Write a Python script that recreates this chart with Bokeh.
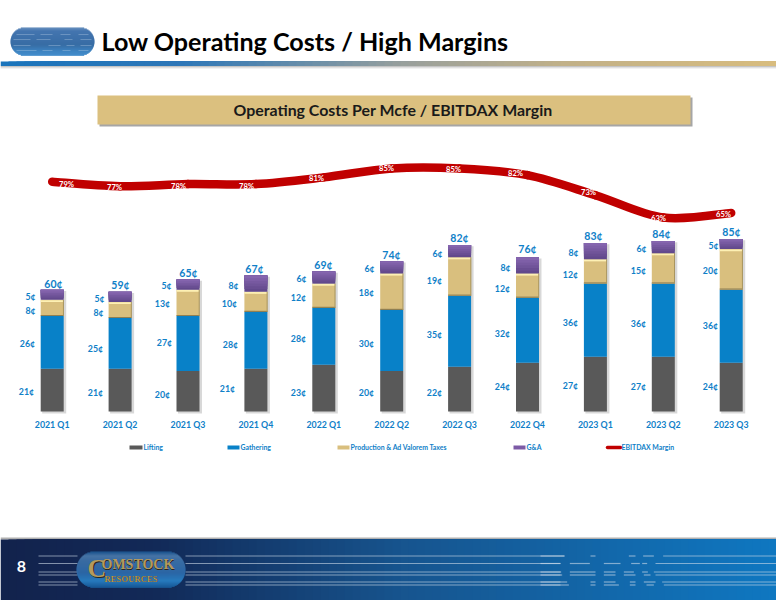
import numpy as np
from bokeh.plotting import figure
from bokeh.core.properties import value
from bokeh.models import Range1d, LinearAxis, FixedTicker, ColumnDataSource
from bokeh.embed import file_html
from bokeh.resources import INLINE

# ---- data ----
quarters = ["2021 Q1","2021 Q2","2021 Q3","2021 Q4","2022 Q1","2022 Q2","2022 Q3","2022 Q4","2023 Q1","2023 Q2","2023 Q3"]
lifting    = [21,21,20,21,23,20,22,24,27,27,24]
gathering  = [26,25,27,28,28,30,35,32,36,36,36]
production = [8,8,13,10,12,18,19,12,12,15,20]
g_and_a    = [5,5,5,8,6,6,6,8,8,6,5]
totals     = [60,59,65,67,69,74,82,76,83,84,85]
margin     = [79,77,78,78,81,85,85,82,73,63,65]

# hand-placed label anchors of the original slide (page pixels)
lift_lx = [26,95,162,227,298,366,434,502,570,638,710]
lift_ly = [391,392,394,388,392,392,392,386,385,386,386]
gath_lx = [27,95,164,230,298,366,434,502,570,638,710]
gath_ly = [343,348,342,344,338,343,334,333,322,323,325]
prod_lx = [30,98,162,229,298,366,434,502,570,638,710]
prod_ly = [310,312,303,303,297,292,280,288,274,270,270]
ga_lx   = [30,99,166,233,301,369,437,505,573,641,713]
ga_ly   = [296,298,285,285,278,268,253,267,252,248,245]
tot_lx  = [53,120,188,254,323,391,459,527,593,661,731]
tot_ly  = [283,284,272,268,264,254,237,248,235,233,231]
mar_lx  = [66,114,178,246,316,386,453,515,588,658,723]
mar_ly  = [183,186,185,185,177,167,168,172,191,217,213]

FONT = "Lato"
BLUE_TXT = "#0f80c8"
C_LIFT, C_GATH, C_PROD, C_RED = "#595959", "#0881c8", "#d9bf7e", "#c00000"

# layout: one frame covering the page, in page pixel terms
X0, DX, BASE, SCALE = 51.7, 67.9, 411.0, 2.03
M_REF, M_PX, M_SCALE = 63.0, 217.0, 2.23
L, R, T, B = 0, 776, 0, 600

p = figure(width=R-L, height=B-T, output_backend="svg", toolbar_location=None,
           x_axis_location=None, y_axis_location=None, min_border=0,
           x_range=Range1d((L-X0)/DX, (R-X0)/DX),
           y_range=Range1d((BASE-B)/SCALE, (BASE-T)/SCALE))
p.outline_line_color = None
p.grid.visible = False
p.background_fill_color = "white"
p.border_fill_color = "white"
p.extra_x_ranges["px"] = Range1d(L, R)
p.extra_y_ranges["px"] = Range1d(B, T)
p.extra_y_ranges["margin"] = Range1d(M_REF+(M_PX-B)/M_SCALE, M_REF+(M_PX-T)/M_SCALE)
PX = dict(x_range_name="px", y_range_name="px")

def grad(xs, stops):
    px, cs = zip(*stops)
    arr = np.array([[int(c[i:i+2], 16) for i in (1, 3, 5)] for c in cs], float)
    out = np.stack([np.interp(xs, px, arr[:, k]) for k in range(3)], 1).astype(int)
    return ["#%02x%02x%02x" % tuple(v) for v in out]

def box(x0, x1, y0, y1, color, alpha=1.0):
    p.quad(left=x0, right=x1, top=y0, bottom=y1, fill_color=color, line_color=None, fill_alpha=alpha, **PX)

def pill(x0, x1, y0, y1, stops):
    ys = np.arange(y0, y1, 1.0)
    r = (y1-y0)/2
    c = (y0+y1)/2
    inset = r - np.sqrt(np.maximum(r*r-(ys+0.5-c)**2, 0))
    cols = grad(ys, stops)
    p.quad(left=x0+inset, right=x1-inset, top=ys, bottom=ys+1.3, fill_color=cols, line_color=None, **PX)

def lines(rows, color, alpha, w=1.2):
    x0, x1, y = [], [], []
    for yy, segs in rows:
        for a, b in segs:
            x0.append(a); x1.append(b); y.append(yy)
    p.segment(x0=x0, x1=x1, y0=y, y1=y, line_color=color, line_alpha=alpha, line_width=w, **PX)

def label(x, y, text, size, color="black", style="bold", align="left", font=FONT):
    p.text(x=[x], y=[y], text=[text], text_font=value(font), text_font_size=f"{size}px", text_font_style=style,
           text_color=color, text_align=align, text_baseline="middle", **PX)

# ---- header ----
pill(10, 94, 27, 55, [(27,"#4f7fb4"),(30,"#2a62a4"),(44,"#1b5898"),(50,"#2272b8"),(55,"#2a7fc6")])
lines([(34,[(16,34),(40,52),(60,70),(78,88)]),(39,[(13,30),(36,50),(64,72),(80,91)]),
       (45,[(13,30),(48,60),(66,74),(80,91)]),(50,[(16,36),(42,52),(62,70),(78,88)])], "#cfe0f2", 0.3, 1.0)
label(101, 40, "Low Operating Costs / High Margins", 25.1)
xs = np.arange(0, 776, 8.0)
rule_c = grad(xs, [(0,"#1b75bc"),(180,"#2f78b8"),(400,"#99a09c"),(560,"#c2b188"),(776,"#d9bd7e")])
p.quad(left=xs, right=776, top=61, bottom=65.5, fill_color=rule_c, line_color=None, **PX)
box(0, 776, 65.5, 67, "#b5b5b5", 0.8)
box(0, 776, 67, 68, "#dddddd", 0.8)

box(99, 692, 97, 126, "#a6a6a6")
box(97, 690, 95, 124, "#dbc07f")
label(392.5, 109, "Operating Costs Per Mcfe / EBITDAX Margin", 15.9, color="#1a1a1a", align="center")

# ---- footer ----
box(0, 776, 537, 539, "#b0b0b0")
foot_c = grad(xs, [(0,"#12234d"),(150,"#122a58"),(400,"#17558f"),(776,"#0f78c2")])
p.quad(left=xs, right=776, top=539, bottom=600, fill_color=foot_c, line_color=None, **PX)
G = lambda *pairs: [(540+a/3, 540+b/3) for a, b in pairs]
lines([(555.5, [(38,77)]+[(185,564)]+G((0,72),(150,165),(265,285),(308,340),(368,708))),
       (563,   [(38,77)]+[(185,560)]+G((0,60),(88,148),(190,240),(272,298),(305,320),(345,708))),
       (571.5, [(38,77)]+[(185,560)]+G((0,62),(88,165),(190,225),(250,280),(305,322),(340,708))),
       (574.5, [(38,77)]+[(185,560)]+G((0,65),(88,165),(190,225),(250,285),(310,330),(345,708))),
       (581.5, [(38,77)]+[(185,560)]+G((0,80),(150,165),(190,225),(268,285),(310,345),(365,708))),
       (584.5, [(38,77)]+[(185,560)]+G((0,85),(150,165),(190,235),(268,285),(318,340),(370,708)))],
      "#cfdcea", 0.6, 1.2)
label(21, 566, "8", 16, color="white", align="center")
pill(76, 185, 551, 587, [(551,"#1c5a96"),(555,"#4f7fb0"),(560,"#3f75ad"),(572,"#2f6fb0"),(580,"#2a86cc"),(587,"#155a9a")])
label(88, 569, "C", 26, color="#2a2418", font="Liberation Serif")
label(87, 568, "C", 26, color="#b59a5c", font="Liberation Serif")
label(101.5, 565, "OMSTOCK", 14, color="#2a2418", font="Liberation Serif")
label(101, 564, "OMSTOCK", 14, color="#b59a5c", font="Liberation Serif")
label(104.5, 578.5, "RESOURCES", 8.7, color="#2a2418", font="Liberation Serif")
label(104, 578, "RESOURCES", 8.7, color="#b59a5c", font="Liberation Serif")

# ---- stacked bars ----
idx = np.arange(len(quarters), dtype=float)
lift = np.array(lifting, float); gath = np.array(gathering, float)
prod = np.array(production, float); ga = np.array(g_and_a, float)
c1 = lift; c2 = c1+gath; c3 = c2+prod; c4 = c3+ga
W = 23/DX

p.vbar(x=idx+2/DX, width=W+1/DX, top=c4-0.6, bottom=-1, fill_color="#a8a8a8", fill_alpha=0.45, line_color=None)
p.vbar(x=idx, width=W, bottom=0, top=c1, fill_color=C_LIFT, line_color=None)
p.vbar(x=idx, width=W, bottom=c1, top=c2, fill_color=C_GATH, line_color=None)
p.vbar(x=idx, width=W, bottom=c2, top=c3, fill_color=C_PROD, line_color=None)
p.segment(x0=idx-W/2, x1=idx+W/2, y0=c3-0.6, y1=c3-0.6, line_color="#fdf0b4", line_width=1.8)
p.segment(x0=idx-W/2, x1=idx+W/2, y0=c2+0.3, y1=c2+0.3, line_color="#8f7f52", line_width=1.2)
p.segment(x0=idx+W/2-0.004, x1=idx+W/2-0.004, y0=c2, y1=c3, line_color="#a8955f", line_width=1)
N = 6
for k, col in enumerate(grad(np.arange(N), [(0,"#62498c"),(N-1,"#8565ae")])):
    p.vbar(x=idx, width=W, bottom=c3+ga*k/N, top=c4, fill_color=col, line_color=None)

# ---- margin line ----
m = np.array(margin, float)
xm = np.r_[idx[0], idx, idx[-1]]
ym = np.r_[m[0], m, m[-1]]
p.bezier(x0=idx[:-1], y0=m[:-1], x1=idx[1:], y1=m[1:],
         cx0=idx[:-1]+(xm[2:-1]-xm[:-3])/6, cy0=m[:-1]+(ym[2:-1]-ym[:-3])/6,
         cx1=idx[1:]-(xm[3:]-xm[1:-2])/6, cy1=m[1:]-(ym[3:]-ym[1:-2])/6,
         line_color=C_RED, line_width=8.5, line_cap="round", y_range_name="margin")

# ---- data labels ----
def value_labels(values, mids, lx, ly, suffix, size, color=BLUE_TXT, yname=None, to_px=None):
    px_y = to_px(mids)
    src = ColumnDataSource(dict(x=idx, y=mids, t=[f"{int(v)}{suffix}" for v in values],
                                dx=np.array(lx)-(X0+idx*DX), dy=np.array(ly)-px_y))
    kw = dict(y_range_name=yname) if yname else {}
    p.text(x="x", y="y", text="t", x_offset="dx", y_offset="dy", source=src, text_font=value(FONT),
           text_font_size=f"{size}px", text_font_style="bold", text_color=color,
           text_align="center", text_baseline="middle", **kw)

bar_px = lambda v: BASE - SCALE*v
value_labels(lift, lift/2, lift_lx, lift_ly, "¢", 8.8, to_px=bar_px)
value_labels(gath, c1+gath/2, gath_lx, gath_ly, "¢", 8.8, to_px=bar_px)
value_labels(prod, c2+prod/2, prod_lx, prod_ly, "¢", 8.8, to_px=bar_px)
value_labels(ga, c3+ga/2, ga_lx, ga_ly, "¢", 8.8, to_px=bar_px)
value_labels(np.array(totals), np.array(totals, float), tot_lx, tot_ly, "¢", 10.5, to_px=bar_px)
value_labels(m, m, mar_lx, mar_ly, "%", 7.6, color="white", yname="margin", to_px=lambda v: M_PX-(v-M_REF)*M_SCALE)

# ---- category axis ----
ax = LinearAxis(ticker=FixedTicker(ticks=list(range(len(quarters)))),
                major_label_overrides={i: q for i, q in enumerate(quarters)},
                fixed_location=0, axis_line_color=None, major_tick_line_color=None, minor_tick_line_color=None,
                major_tick_out=0, major_tick_in=0,
                major_label_text_font=FONT, major_label_text_font_style="bold",
                major_label_text_font_size="8.8px", major_label_text_color=BLUE_TXT, major_label_standoff=7)
p.add_layout(ax, "below")

# ---- legend ----
legend_names = ["Lifting", "Gathering", "Production & Ad Valorem Taxes", "G&A", "EBITDAX Margin"]
legend_x = [129, 227, 337, 513, 605]
legend_w = [13, 12, 12, 12, 15]
legend_c = [C_LIFT, C_GATH, C_PROD, "#7d5ba6", C_RED]
for n, x, w, c in zip(legend_names, legend_x, legend_w, legend_c):
    if n.startswith("EBITDAX"):
        p.segment(x0=[x+2], x1=[x+w], y0=[447], y1=[447], line_color=c, line_width=3.5, line_cap="round", **PX)
    else:
        box(x, x+w, 445, 449, c)
    label(x+w+1, 446.8, n, 6.9, color=BLUE_TXT)

open("out.html", "w").write(file_html(p, INLINE))
